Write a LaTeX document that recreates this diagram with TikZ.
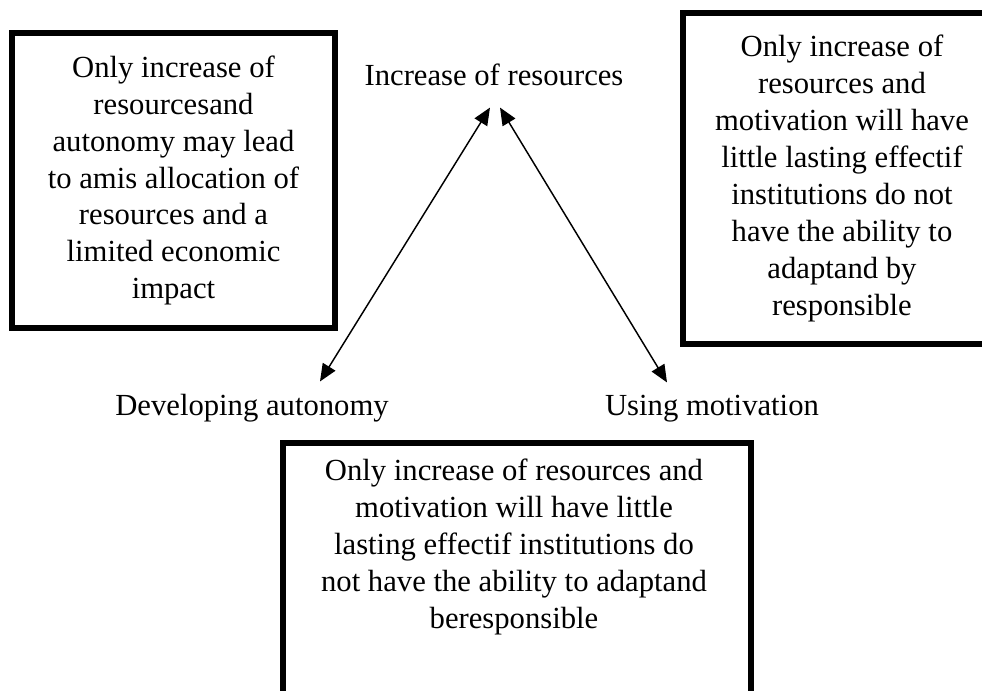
\documentclass[tikz,border=0pt]{standalone}
\usepackage{fontspec}
\setmainfont{Liberation Serif}
\usetikzlibrary{arrows.meta}

\begin{document}
\begin{tikzpicture}[x=0.75pt, y=-0.75pt]

\tikzset{notebox/.style={draw, rectangle, line width=4.2pt, inner sep=0pt, align=center, font=\fontsize{23}{27.7}\selectfont}}
\tikzset{corner/.style={inner sep=0pt, anchor=base, font=\fontsize{23}{27.7}\selectfont}}
\tikzset{twoway/.style={{Triangle[length=13pt, width=11pt]}-{Triangle[length=13pt, width=11pt]}, line width=1.1pt}}

\useasboundingbox (0,0) rectangle (982,690);
\clip (0,0) rectangle (982,690);

% triangle corners
\node[corner] at (494, 85) (res) {Increase of resources};
\node[corner] at (252, 415) (dev) {Developing autonomy};
\node[corner] at (712, 415) (mot) {Using motivation};

% remarks
\node[notebox, minimum width=242pt, minimum height=221pt] at (173.5, 180.5) (lbox) {Only increase of\\resourcesand\\autonomy may lead\\to amis allocation of\\resources and a\\limited economic\\impact};
\node[notebox, minimum width=238.5pt, minimum height=248pt] at (842, 178.5) (rbox) {Only increase of\\resources and\\motivation will have\\little lasting effectif\\institutions do not\\have the ability to\\adaptand by\\responsible};
\node[notebox, minimum width=351pt, minimum height=300pt, anchor=north west] at (280, 440) (bbox) {};
\node[corner, anchor=north, align=center] at (514, 459) (btext) {Only increase of resources and\\motivation will have little\\lasting effectif institutions do\\not have the ability to adaptand\\beresponsible};

% links
\draw[twoway] ([shift={(68,-12)}]dev.north) -- ([shift={(-4,22)}]res.south);
\draw[twoway] ([shift={(6,22)}]res.south) -- ([shift={(-45,-12)}]mot.north);

\end{tikzpicture}
\end{document}
